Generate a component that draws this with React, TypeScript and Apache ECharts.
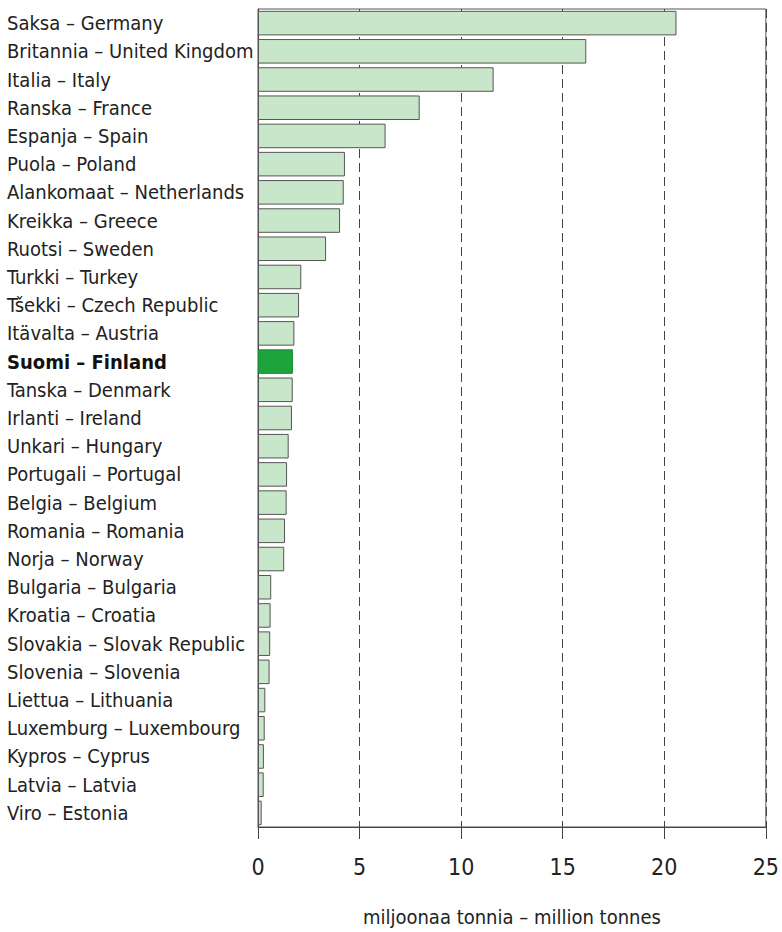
import React, { useEffect, useRef } from "react";
import * as echarts from "echarts";

const categories = [
  "Saksa – Germany",
  "Britannia – United Kingdom",
  "Italia – Italy",
  "Ranska – France",
  "Espanja – Spain",
  "Puola – Poland",
  "Alankomaat – Netherlands",
  "Kreikka – Greece",
  "Ruotsi – Sweden",
  "Turkki – Turkey",
  "Tšekki – Czech Republic",
  "Itävalta – Austria",
  "Suomi – Finland",
  "Tanska – Denmark",
  "Irlanti – Ireland",
  "Unkari – Hungary",
  "Portugali – Portugal",
  "Belgia – Belgium",
  "Romania – Romania",
  "Norja – Norway",
  "Bulgaria – Bulgaria",
  "Kroatia – Croatia",
  "Slovakia – Slovak Republic",
  "Slovenia – Slovenia",
  "Liettua – Lithuania",
  "Luxemburg – Luxembourg",
  "Kypros – Cyprus",
  "Latvia – Latvia",
  "Viro – Estonia",
];

const values = [
  20.6, 16.16, 11.6, 7.96, 6.28, 4.28, 4.22, 4.04, 3.35, 2.13, 2.02, 1.79,
  1.72, 1.71, 1.67, 1.51, 1.43, 1.41, 1.33, 1.29, 0.65, 0.62, 0.6, 0.57,
  0.36, 0.33, 0.29, 0.28, 0.18,
];

const highlight = "Suomi – Finland";
const axisTitle = "miljoonaa tonnia – million tonnes";

const FONT = '"DejaVu Sans Condensed", "Liberation Sans Narrow", sans-serif';

export default function App() {
  const ref = useRef<HTMLDivElement>(null);
  useEffect(() => {
    if (!ref.current) return;
    const chart = echarts.init(ref.current, undefined, { renderer: "svg" });
    chart.setOption({
      animation: false,
      grid: {
        left: 258,
        right: 12,
        top: 9,
        bottom: 101,
        show: true,
        borderColor: "#555",
        borderWidth: 1,
        backgroundColor: "transparent",
      },
      xAxis: {
        type: "value",
        min: 0,
        max: 25,
        interval: 5,
        name: axisTitle,
        nameLocation: "middle",
        nameGap: 80,
        nameTextStyle: { fontFamily: FONT, fontSize: 20, color: "#222" },
        axisLine: { show: true, lineStyle: { color: "#444", width: 1 } },
        axisTick: { show: true, inside: false, length: 12, lineStyle: { color: "#444" } },
        axisLabel: { fontFamily: FONT, fontSize: 23, color: "#222", margin: 28 },
        splitLine: {
          show: true,
          lineStyle: { color: "#444", type: [9, 5], width: 1 },
        },
      },
      yAxis: {
        type: "category",
        data: categories,
        inverse: true,
        axisLine: { show: true, lineStyle: { color: "#444" } },
        axisTick: { show: false },
        axisLabel: {
          interval: 0,
          fontFamily: FONT,
          fontSize: 20,
          color: "#222",
          align: "left",
          margin: 251,
          overflow: "none",
          formatter: (v: string) => (v === highlight ? `{b|${v}}` : v),
          rich: {
            b: { fontFamily: FONT, fontSize: 20, fontWeight: "bold", color: "#111" },
          },
        },
      },
      series: [
        {
          type: "bar",
          data: values.map((v, i) => ({
            value: v,
            itemStyle:
              categories[i] === highlight
                ? { color: "#1ba33c", borderColor: "#1a8a35", borderWidth: 1 }
                : undefined,
          })),
          barCategoryGap: "13%",
          itemStyle: { color: "#c8e6c9", borderColor: "#555", borderWidth: 1 },
        },
      ],
    });
    return () => chart.dispose();
  }, []);
  return <div ref={ref} style={{ width: 782, height: 932, position: "absolute", left: 0, top: 0 }} />;
}
